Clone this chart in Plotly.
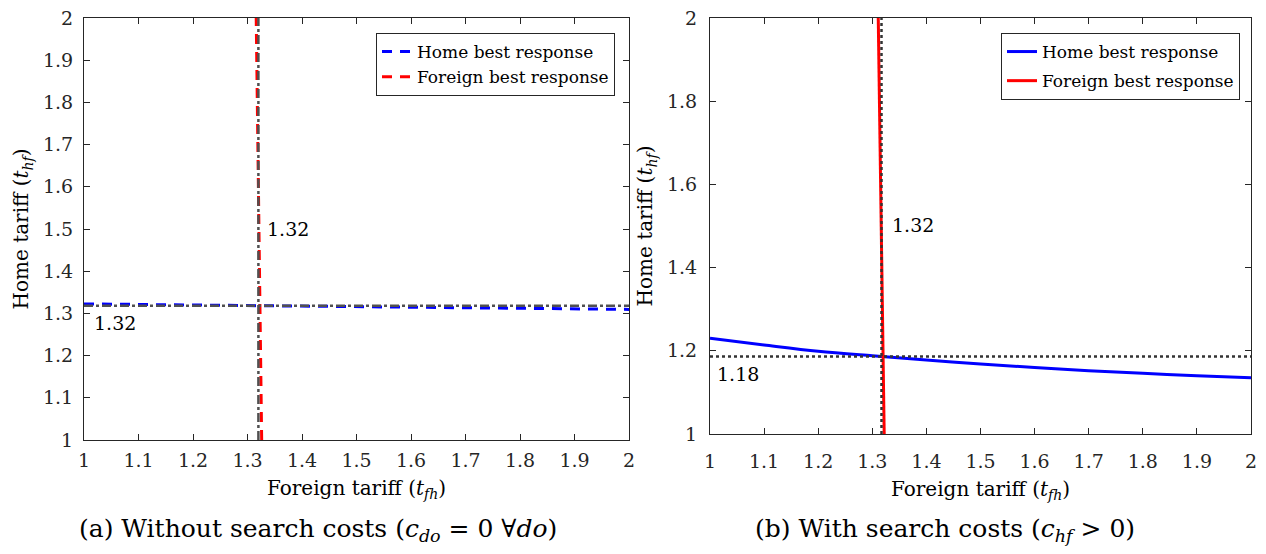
import plotly.graph_objects as go

# ---------------- data ----------------
# Panel (a): without search costs
a_home_x = [1.0, 1.5, 2.0]
a_home_y = [1.3225, 1.316, 1.3095]
a_foreign_y = [1.0, 1.5, 2.0]
a_foreign_x = [1.326, 1.321, 1.316]
a_eq = 1.32
a_eq_h = 1.318

# Panel (b): with search costs
b_home_x = [1.0, 1.1, 1.2, 1.3, 1.4, 1.5, 1.6, 1.7, 1.8, 1.9, 2.0]
b_home_y = [1.230, 1.214, 1.199, 1.188, 1.178, 1.168, 1.160, 1.152, 1.146, 1.140, 1.135]
b_foreign_y = [1.0, 1.5, 2.0]
b_foreign_x = [1.322, 1.3165, 1.311]
b_eq_x = 1.317
b_eq_y = 1.186

a_ticks = [1.0, 1.1, 1.2, 1.3, 1.4, 1.5, 1.6, 1.7, 1.8, 1.9, 2.0]
a_ticklabels = ["1", "1.1", "1.2", "1.3", "1.4", "1.5", "1.6", "1.7", "1.8", "1.9", "2"]
b_yticks = [1.0, 1.2, 1.4, 1.6, 1.8, 2.0]
b_yticklabels = ["1", "1.2", "1.4", "1.6", "1.8", "2"]

W, H = 1266, 554
TICKFONT = dict(family="DejaVu Serif", size=19, color="#262626")
TITLEFONT = dict(family="DejaVu Serif", size=20, color="#000000")
LEGFONT = dict(family="DejaVu Serif", size=17, color="#000000")

fig = go.Figure()

# ---- panel (a) ----
fig.add_trace(go.Scatter(x=a_home_x, y=a_home_y, mode="lines", name="Home best response",
                         line=dict(color="#0000ff", width=3, dash="10px,8px"),
                         xaxis="x", yaxis="y", legend="legend", legendgroup="a1"))
fig.add_trace(go.Scatter(x=a_foreign_x, y=a_foreign_y, mode="lines", name="Foreign best response",
                         line=dict(color="#ff0000", width=3, dash="10px,8px"),
                         xaxis="x", yaxis="y", legend="legend", legendgroup="a2"))
fig.add_trace(go.Scatter(x=[1.0, 2.0], y=[a_eq_h, a_eq_h], mode="lines", showlegend=False,
                         line=dict(color="#505050", width=2.5, dash="dashdot"), xaxis="x", yaxis="y"))
fig.add_trace(go.Scatter(x=[a_eq, a_eq], y=[1.0, 2.0], mode="lines", showlegend=False,
                         line=dict(color="#505050", width=2.5, dash="dashdot"), xaxis="x", yaxis="y"))

# ---- panel (b) ----
fig.add_trace(go.Scatter(x=b_home_x, y=b_home_y, mode="lines", name="Home best response",
                         line=dict(color="#0000ff", width=3, shape="spline"),
                         xaxis="x2", yaxis="y2", legend="legend2", legendgroup="b1"))
fig.add_trace(go.Scatter(x=b_foreign_x, y=b_foreign_y, mode="lines", name="Foreign best response",
                         line=dict(color="#ff0000", width=3),
                         xaxis="x2", yaxis="y2", legend="legend2", legendgroup="b2"))
fig.add_trace(go.Scatter(x=[1.0, 2.0], y=[b_eq_y, b_eq_y], mode="lines", showlegend=False,
                         line=dict(color="#333333", width=2.5, dash="dot"), xaxis="x2", yaxis="y2"))
fig.add_trace(go.Scatter(x=[b_eq_x, b_eq_x], y=[1.0, 2.0], mode="lines", showlegend=False,
                         line=dict(color="#333333", width=2.5, dash="dot"), xaxis="x2", yaxis="y2"))

def ax(domain, anchor, tickvals, ticktext, title, standoff, lblstand):
    return dict(domain=domain, anchor=anchor, range=[1, 2], tickvals=tickvals, ticktext=ticktext,
                showline=True, linecolor="#262626", linewidth=1, mirror="ticks",
                ticks="inside", ticklen=6, tickcolor="#262626", showgrid=False, zeroline=False,
                tickfont=TICKFONT, automargin=False, ticklabelstandoff=lblstand,
                title=dict(text=title, font=TITLEFONT, standoff=standoff))

xt = "Foreign tariff (<i>t</i><sub><i>fh</i></sub>)"
yt = "Home tariff (<i>t</i><sub><i>hf</i></sub>)"

fig.update_layout(
    width=W, height=H, margin=dict(l=0, r=0, t=0, b=0),
    paper_bgcolor="white", plot_bgcolor="white",
    xaxis=ax([84 / W, 629 / W], "y", a_ticks, a_ticklabels, xt, 11, 3),
    yaxis=ax([1 - 440 / H, 1 - 18 / H], "x", a_ticks, a_ticklabels, yt, 8, 6),
    xaxis2=ax([710 / W, 1251 / W], "y2", a_ticks, a_ticklabels, xt, 11, 10),
    yaxis2=ax([1 - 434 / H, 1 - 18 / H], "x2", b_yticks, b_yticklabels, yt, 8, 8),
    legend=dict(x=615 / W, y=1 - 33 / H, xanchor="right", yanchor="top",
                bordercolor="#262626", borderwidth=1, bgcolor="white", font=LEGFONT,
                tracegroupgap=0, itemwidth=30),
    legend2=dict(x=1240 / W, y=1 - 33 / H, xanchor="right", yanchor="top",
                 bordercolor="#262626", borderwidth=1, bgcolor="white", font=LEGFONT,
                 tracegroupgap=4, itemwidth=30),
    showlegend=True,
)

ann_font = dict(family="DejaVu Serif", size=19, color="#000000")
fig.add_annotation(x=1.332, y=1.50, xref="x", yref="y", text="1.32", showarrow=False,
                   xanchor="left", yanchor="middle", font=ann_font)
fig.add_annotation(x=1.015, y=1.277, xref="x", yref="y", text="1.32", showarrow=False,
                   xanchor="left", yanchor="middle", font=ann_font)
fig.add_annotation(x=1.333, y=1.502, xref="x2", yref="y2", text="1.32", showarrow=False,
                   xanchor="left", yanchor="middle", font=ann_font)
fig.add_annotation(x=1.009, y=1.144, xref="x2", yref="y2", text="1.18", showarrow=False,
                   xanchor="left", yanchor="middle", font=ann_font)

cap_font = dict(family="DejaVu Serif", size=25, color="#000000")
fig.add_annotation(x=318 / W, y=1 - 530 / H, xref="paper", yref="paper", showarrow=False,
                   xanchor="center", yanchor="middle", font=cap_font,
                   text="(a) Without search costs (<i>c</i><sub><i>do</i></sub> = 0 ∀<i>do</i>)")
fig.add_annotation(x=945 / W, y=1 - 530 / H, xref="paper", yref="paper", showarrow=False,
                   xanchor="center", yanchor="middle", font=cap_font,
                   text="(b) With search costs (<i>c</i><sub><i>hf</i></sub> &gt; 0)")

fig.write_html("out.html")
